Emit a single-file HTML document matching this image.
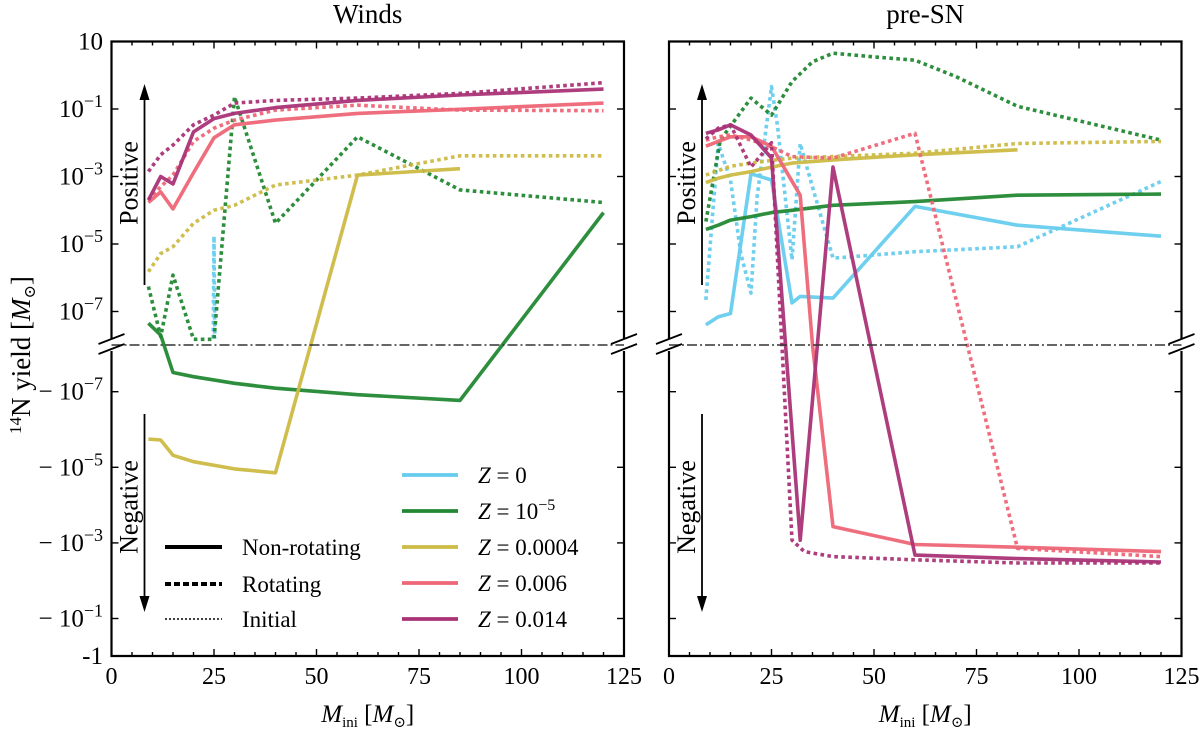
<!DOCTYPE html>
<html><head><meta charset="utf-8"><style>
html,body{margin:0;padding:0;background:#fff;}
svg{display:block;font-family:"Liberation Serif","DejaVu Serif",serif;}
</style></head><body>
<svg id="fig" width="1200" height="731" viewBox="0 0 1200 731" xmlns="http://www.w3.org/2000/svg">
<g id="layer"></g>
</svg>
<script>
// ---------- data ----------
const windMasses = [9,12,15,20,25,30,40,60,85,120];
const windZ014 = [2.0e-4,1.0e-3,6.0e-4,2.1e-2,5.2e-2,7.4e-2,0.11,0.18,0.26,0.39];
const windZ014Rot = [1.4e-3,4.4e-3,8.5e-3,3.4e-2,6.6e-2,0.15,0.18,0.21,0.29,0.6];
const windZ006 = [1.7e-4,3.5e-4,1.1e-4,1.3e-3,1.4e-2,3.4e-2,4.7e-2,7.4e-2,9.8e-2,0.15];
const windZ006Rot = [2.0e-4,5.0e-4,1.1e-3,1.1e-2,2.7e-2,4.7e-2,9.3e-2,0.13,9.3e-2,8.9e-2];
const windZ0004Rot = [1.5e-6,5.2e-6,8.3e-6,4.1e-5,1.0e-4,1.4e-4,5.6e-4,1.1e-3,4.1e-3,4.1e-3];
const windZ0004Masses = [9,12,15,20,30,40,60,85];
const windZ0004 = [-1.8e-6,-1.9e-6,-4.8e-6,-7.1e-6,-1.1e-5,-1.4e-5,1.1e-3,1.7e-3];
const windZ1e5Masses = [9,12,15,20,30,40,60,85,120];
const windZ1e5 = [4.5e-8,2.0e-8,-3.1e-8,-4.0e-8,-6.0e-8,-8.1e-8,-1.2e-7,-1.7e-7,8.5e-5];
const windZ1e5Rot = [5.5e-7,1.8e-8,1.2e-6,1.5e-8,1.5e-8,0.23,4.1e-5,1.5e-2,4.0e-4,1.7e-4];
const windZ0RotMasses = [24.8,25,25.2];
const windZ0Rot = [1.6e-8,1.7e-5,1.6e-8];

const snMasses = [9,12,15,20,25,30,40,60,85,120];
const snZ014Masses = [9,12,15,20,25,32,40,60,85,120];
const snZ014 = [1.9e-2,2.4e-2,3.4e-2,1.7e-2,3.5e-3,-8.5e-4,1.9e-3,-2.1e-3,-2.6e-3,-3.2e-3];
const snZ014RotMasses = [9,12,15,20,25,30,33,40,60,85,120];
const snZ014Rot = [1.3e-2,2.7e-2,3.4e-2,1.9e-3,1.0e-2,-8.5e-4,-1.7e-3,-2.3e-3,-2.8e-3,-3.4e-3,-3.4e-3];
const snZ006Masses = [9,12,15,20,25,32,35,40,60,85,120];
const snZ006 = [7.9e-3,1.1e-2,1.5e-2,1.5e-2,7.9e-3,2.8e-4,0,-3.7e-4,-1.1e-3,-1.3e-3,-1.7e-3];
const snZ006Rot = [1.2e-2,1.5e-2,1.7e-2,1.2e-2,7.6e-3,3.9e-3,3.5e-3,1.9e-2,-1.4e-3,-2.3e-3];
const snZ0004Masses = [9,12,15,20,25,30,40,60,85];
const snZ0004 = [6.6e-4,8.9e-4,1.1e-3,1.4e-3,1.9e-3,2.5e-3,3.1e-3,4.4e-3,6.2e-3];
const snZ0004Rot = [1.1e-3,1.5e-3,2.0e-3,2.5e-3,3.0e-3,3.5e-3,3.9e-3,4.9e-3,9.5e-3,1.1e-2];
const snZ1e5 = [2.7e-5,3.6e-5,5.1e-5,6.5e-5,8.5e-5,1.0e-4,1.4e-4,1.8e-4,2.8e-4,3.0e-4];
const snZ1e5RotMasses = [9,12.5,20,25,30,35,40,50,60,70,85,120];
const snZ1e5Rot = [4.6e-5,1.2e-2,0.21,6.6e-2,0.65,2.5,4.5,3.5,2.8,0.91,0.12,1.2e-2];
const snZ0Masses = [9,12,15,20,25,30,32,40,60,85,120];
const snZ0 = [4.0e-8,6.9e-8,8.7e-8,1.2e-3,7.9e-4,1.8e-7,2.8e-7,2.5e-7,1.3e-4,3.6e-5,1.7e-5];
const snZ0RotMasses = [9,12,15,17.5,20,21.5,23,25,26.5,30,32,34.5,40,60,85,120];
const snZ0Rot = [2.2e-7,9.5e-3,7.9e-4,5.2e-6,3.5e-7,2.5e-4,6.2e-3,0.46,3.0e-2,3.4e-6,9.5e-3,7.9e-4,3.8e-6,5.9e-6,8.3e-6,7.1e-4];

const xTicks = [0,25,50,75,100,125];
const posTickExp = [1,-1,-3,-5,-7];
const negTickExp = [-7,-5,-3,-1];

// ---------- scales ----------
const PANELS = [{x0:111.5, name:'winds'},{x0:669, name:'pre-sn'}];
const PX = 4.1, TOP = 41.5, BOT = 656, BREAK = 345;
function xs(p, m){ return PANELS[p].x0 + m*PX; }
function ys(v){
  if (v > 0){ const e = Math.log10(v); return Math.min(BREAK, 109 + (-1 - e)*33.75); }
  if (v < 0){ const q = Math.log10(-v); return Math.max(BREAK, 391.7 + (q + 7)*37.8); }
  return BREAK;
}
const NS='http://www.w3.org/2000/svg';
const layer=document.getElementById('layer');
function mk(tag, attrs, parent){
  const el=document.createElementNS(NS,tag);
  for(const k in attrs) el.setAttribute(k, attrs[k]);
  (parent||layer).appendChild(el); return el;
}
const C = {z0:'#66ccee', z1e5:'#228833', z0004:'#ccbb44', z006:'#ee6677', z014:'#aa3377'};

// ---------- series ----------
function series(p, masses, vals, color, rot, name){
  const pts = masses.map((m,i)=> xs(p,m).toFixed(1)+','+ys(vals[i]).toFixed(1)).join(' ');
  const el = mk('polyline',{points:pts, fill:'none', stroke:color, 'stroke-width':3.6,
    'stroke-linejoin':'round', 'stroke-dasharray': rot?'3.6 3.4':'none', opacity:0.95});
  
  
}
series(0, windZ0RotMasses, windZ0Rot, C.z0, true, 'winds-z0-rotating');
series(0, windZ1e5Masses, windZ1e5, C.z1e5, false, 'winds-z1e-5-nonrotating');
series(0, windMasses, windZ1e5Rot, C.z1e5, true, 'winds-z1e-5-rotating');
series(0, windZ0004Masses, windZ0004, C.z0004, false, 'winds-z0004-nonrotating');
series(0, windMasses, windZ0004Rot, C.z0004, true, 'winds-z0004-rotating');
series(0, windMasses, windZ006, C.z006, false, 'winds-z006-nonrotating');
series(0, windMasses, windZ006Rot, C.z006, true, 'winds-z006-rotating');
series(0, windMasses, windZ014, C.z014, false, 'winds-z014-nonrotating');
series(0, windMasses, windZ014Rot, C.z014, true, 'winds-z014-rotating');

series(1, snZ0Masses, snZ0, C.z0, false, 'presn-z0-nonrotating');
series(1, snZ0RotMasses, snZ0Rot, C.z0, true, 'presn-z0-rotating');
series(1, snMasses, snZ1e5, C.z1e5, false, 'presn-z1e-5-nonrotating');
series(1, snZ1e5RotMasses, snZ1e5Rot, C.z1e5, true, 'presn-z1e-5-rotating');
series(1, snZ0004Masses, snZ0004, C.z0004, false, 'presn-z0004-nonrotating');
series(1, snMasses, snZ0004Rot, C.z0004, true, 'presn-z0004-rotating');
series(1, snZ006Masses, snZ006, C.z006, false, 'presn-z006-nonrotating');
series(1, snMasses, snZ006Rot, C.z006, true, 'presn-z006-rotating');
series(1, snZ014Masses, snZ014, C.z014, false, 'presn-z014-nonrotating');
series(1, snZ014RotMasses, snZ014Rot, C.z014, true, 'presn-z014-rotating');

// ---------- axes ----------
function txt(x,y,s,attrs,name){
  const t = mk('text', Object.assign({x:x,y:y,'font-size':22,fill:'#000'},attrs||{}));
  t.innerHTML = s;
  
  
  return t;
}
PANELS.forEach((P,p)=>{
  const xL = xs(p,0), xR = xs(p,125);
  const bl = mk('line',{x1:xL,y1:BREAK,x2:xR,y2:BREAK,stroke:'#333','stroke-width':1.4,'stroke-dasharray':'10 3 2 3'});
  
  
  const fr = mk('path',{d:`M${xL},${BREAK-6} V${TOP} H${xR} V${BREAK-6} M${xL},${BREAK+6} V${BOT} H${xR} V${BREAK+6}`,fill:'none',stroke:'#000','stroke-width':2.2});
  
  
  [xL,xR].forEach(xx=>{
    const br = mk('path',{d:`M${xx-13},${BREAK-1} L${xx+13},${BREAK-11} M${xx-13},${BREAK+9} L${xx+13},${BREAK-1}`,stroke:'#000','stroke-width':1.8,fill:'none'});
    
    
  });
  for(let m=0;m<=125;m+=5){
    const major = (m%25===0), L = major?7:4, x = xs(p,m);
    mk('line',{x1:x,y1:BOT,x2:x,y2:BOT-L,stroke:'#000','stroke-width':1.4});
    mk('line',{x1:x,y1:TOP,x2:x,y2:TOP+L,stroke:'#000','stroke-width':1.4});
  }
  xTicks.forEach(m=>{ txt(xs(p,m), 684, String(m), {'text-anchor':'middle','font-size':24}, 'x-tick-label'); });
  const yt = posTickExp.map(e=>ys(Math.pow(10,e))).concat(negTickExp.map(e=>ys(-Math.pow(10,e))));
  yt.forEach(y=>{
    mk('line',{x1:xL,y1:y,x2:xL+7,y2:y,stroke:'#000','stroke-width':1.4});
    mk('line',{x1:xR,y1:y,x2:xR-7,y2:y,stroke:'#000','stroke-width':1.4});
  });
  txt((xL+xR)/2, 722, '<tspan font-style="italic">M</tspan><tspan font-size="15" dy="5">ini</tspan><tspan dy="-5"> [</tspan><tspan font-style="italic">M</tspan><tspan font-size="15" dy="5">⊙</tspan><tspan dy="-5">]</tspan>', {'text-anchor':'middle','font-size':25}, 'x-axis-title');
  txt((xL+xR)/2, 23, p===0?'Winds':'pre-SN', {'text-anchor':'middle','font-size':27}, p===0?'winds-title':'pre-sn-title');
  const ax = xL + 33;
  mk('line',{x1:ax,y1:285,x2:ax,y2:98,stroke:'#000','stroke-width':1.8});
  mk('path',{d:`M${ax-5},${100} L${ax},${84} L${ax+5},${100} Z`,fill:'#000'});
  mk('line',{x1:ax,y1:414,x2:ax,y2:598,stroke:'#000','stroke-width':1.8});
  mk('path',{d:`M${ax-5},${596} L${ax},${612} L${ax+5},${596} Z`,fill:'#000'});
  txt(ax-7, 183, 'Positive', {'text-anchor':'middle','font-size':26,transform:`rotate(-90 ${ax-7} 183)`}, 'positive-label');
  txt(ax-7, 507, 'Negative', {'text-anchor':'middle','font-size':26,transform:`rotate(-90 ${ax-7} 507)`}, 'negative-label');
});
posTickExp.forEach(e=>{
  const y = ys(Math.pow(10,e))+8;
  const s = e===1 ? '10' : `10<tspan font-size="18" dy="-10">−${-e}</tspan>`;
  txt(103, y, s, {'text-anchor':'end','font-size':25}, 'y-tick-label');
});
negTickExp.forEach(e=>{
  const y = ys(-Math.pow(10,e))+8;
  txt(103, y, `− 10<tspan font-size="18" dy="-10">−${-e}</tspan>`, {'text-anchor':'end','font-size':25}, 'y-tick-label');
});
txt(103, 664, '-1', {'text-anchor':'end','font-size':25}, 'y-tick-label');
txt(30, 355, '<tspan font-size="17" dy="-9">14</tspan><tspan dy="9">N yield [</tspan><tspan font-style="italic">M</tspan><tspan font-size="16" dy="5">⊙</tspan><tspan dy="-5">]</tspan>', {'text-anchor':'middle','font-size':27,transform:'rotate(-90 30 355)'}, 'y-axis-title');

// ---------- legends ----------
const styleLabels = ['Non-rotating','Rotating','Initial'];
const styleDash = ['none','6 3','2 2'];
const styleW = [4,4,1.6];
const styleY = [547,584,619];
styleLabels.forEach((s,i)=>{
  const l = mk('line',{x1:165,y1:styleY[i],x2:222,y2:styleY[i],stroke:'#000','stroke-width':styleW[i],'stroke-dasharray':styleDash[i]});
  
  
  txt(242, styleY[i]+8, s, {'font-size':23}, 'legend-style-entry');
});
const zLabels = ['<tspan font-style="italic">Z</tspan> = 0','<tspan font-style="italic">Z</tspan> = 10<tspan font-size="16" dy="-9">−5</tspan>','<tspan font-style="italic">Z</tspan> = 0.0004','<tspan font-style="italic">Z</tspan> = 0.006','<tspan font-style="italic">Z</tspan> = 0.014'];
const zColors = [C.z0,C.z1e5,C.z0004,C.z006,C.z014];
const zY = [475,511,547,583,619];
zLabels.forEach((s,i)=>{
  const l = mk('line',{x1:402,y1:zY[i],x2:458,y2:zY[i],stroke:zColors[i],'stroke-width':3.8});
  
  
  txt(478, zY[i]+8, s, {'font-size':23}, 'legend-metallicity-entry');
});
</script>
</body></html>
